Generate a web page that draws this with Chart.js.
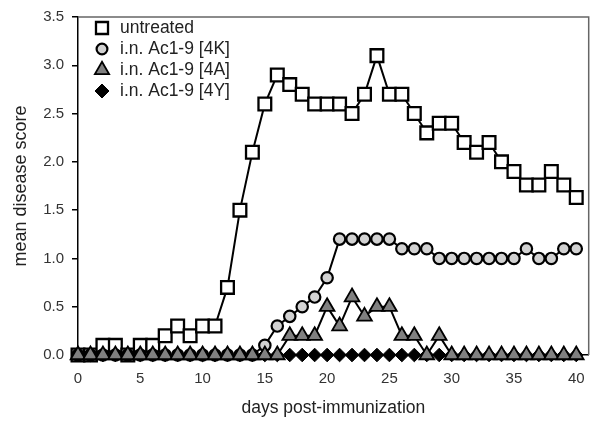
<!DOCTYPE html>
<html>
<head>
<meta charset="utf-8">
<script src="https://cdn.jsdelivr.net/npm/chart.js@4.4.0/dist/chart.umd.min.js"></script>
<style>
  html, body { margin: 0; padding: 0; background: #fff; }
  #wrap { width: 600px; height: 427px; }
</style>
</head>
<body>
<div id="wrap"><canvas id="grafico" width="600" height="427"></canvas></div>
<script>
// dias despues de la inmunizacion
const days = [0, 1, 2, 3, 4, 5, 6, 7, 8, 9, 10, 11, 12, 13, 14, 15, 16, 17, 18, 19, 20,
  21, 22, 23, 24, 25, 26, 27, 28, 29, 30, 31, 32, 33, 34, 35, 36, 37, 38, 39, 40];

const untreated = [0, 0, 0.1, 0.1, 0, 0.1, 0.1, 0.2, 0.3, 0.2, 0.3, 0.3, 0.7, 1.5, 2.1, 2.6, 2.9,
  2.8, 2.7, 2.6, 2.6, 2.6, 2.5, 2.7, 3.1, 2.7, 2.7, 2.5, 2.3, 2.4, 2.4, 2.2, 2.1, 2.2, 2.0,
  1.9, 1.76, 1.76, 1.9, 1.76, 1.63];
const ac4K = [0, 0, 0, 0, 0, 0, 0, 0, 0, 0, 0, 0, 0, 0, 0, 0.1, 0.3, 0.4, 0.5, 0.6, 0.8,
  1.2, 1.2, 1.2, 1.2, 1.2, 1.1, 1.1, 1.1, 1.0, 1.0, 1.0, 1.0, 1.0, 1.0, 1.0, 1.1, 1.0, 1.0, 1.1, 1.1];
const ac4A = [0, 0, 0, 0, 0, 0, 0, 0, 0, 0, 0, 0, 0, 0, 0, 0, 0, 0.2, 0.2, 0.2, 0.5,
  0.3, 0.6, 0.4, 0.5, 0.5, 0.2, 0.2, 0, 0.2, 0, 0, 0, 0, 0, 0, 0, 0, 0, 0, 0];
const ac4Y = [0, 0, 0, 0, 0, 0, 0, 0, 0, 0, 0, 0, 0, 0, 0, 0, 0, 0, 0, 0, 0,
  0, 0, 0, 0, 0, 0, 0, 0, 0, 0, 0, 0, 0, 0, 0, 0, 0, 0, 0, 0];

const seriesNames = ["untreated", "i.n. Ac1-9 [4K]", "i.n. Ac1-9 [4A]", "i.n. Ac1-9 [4Y]"];
const yTicks = [0, 0.5, 1.0, 1.5, 2.0, 2.5, 3.0, 3.5];
const xTicks = [0, 5, 10, 15, 20, 25, 30, 35, 40];

const fuente = "'Liberation Sans', Arial, sans-serif";

const puntos = (valores) => days.map((d, i) => ({ x: d, y: valores[i] }));

// leyenda dentro del area del grafico
const leyenda = {
  id: "leyenda",
  afterDatasetsDraw(chart) {
    const ctx = chart.ctx;
    const tam = [8.5, 5.4, 8.2, 7];
    ctx.save();
    chart.data.datasets.forEach((ds, i) => {
      const y = 28 + i * 21;
      ctx.fillStyle = ds.pointBackgroundColor;
      ctx.strokeStyle = "#000";
      ctx.lineWidth = ds.pointBorderWidth;
      Chart.helpers.drawPoint(ctx, { pointStyle: ds.pointStyle, radius: tam[i], borderWidth: ds.pointBorderWidth }, 102, y);
      ctx.fillStyle = "#222";
      ctx.font = "17.5px " + fuente;
      ctx.textBaseline = "middle";
      ctx.fillText(ds.label, 120, y);
    });
    ctx.restore();
  }
};

// marco superior y derecho
const marco = {
  id: "marco",
  beforeDatasetsDraw(chart) {
    const { left, right, top, bottom } = chart.chartArea;
    const ctx = chart.ctx;
    ctx.save();
    ctx.strokeStyle = "#666";
    ctx.lineWidth = 1.5;
    ctx.beginPath();
    ctx.moveTo(left, top);
    ctx.lineTo(right, top);
    ctx.lineTo(right, bottom);
    ctx.stroke();
    ctx.restore();
  }
};

new Chart(document.getElementById("grafico"), {
  type: "line",
  data: {
    datasets: [
      {
        label: seriesNames[0],
        data: puntos(untreated),
        borderColor: "#000",
        borderWidth: 2,
        pointStyle: "rect",
        pointRadius: 9,
        pointBackgroundColor: "#fff",
        pointBorderColor: "#000",
        pointBorderWidth: 2.3,
        order: 3,
        clip: false,
      },
      {
        label: seriesNames[1],
        data: puntos(ac4K),
        borderColor: "#000",
        borderWidth: 2,
        pointStyle: "circle",
        pointRadius: 5.7,
        pointBackgroundColor: "#d2d2d2",
        pointBorderColor: "#000",
        pointBorderWidth: 2.2,
        order: 2,
        clip: false,
      },
      {
        label: seriesNames[2],
        data: puntos(ac4A),
        borderColor: "#000",
        borderWidth: 2,
        pointStyle: "triangle",
        pointRadius: 8.5,
        pointBackgroundColor: "#808080",
        pointBorderColor: "#000",
        pointBorderWidth: 1.8,
        order: 0,
        clip: false,
      },
      {
        label: seriesNames[3],
        data: puntos(ac4Y),
        borderColor: "#000",
        borderWidth: 2,
        pointStyle: "rectRot",
        pointRadius: 6.8,
        pointBackgroundColor: "#000",
        pointBorderColor: "#000",
        pointBorderWidth: 1,
        order: 1,
        clip: false,
      },
    ],
  },
  options: {
    responsive: false,
    animation: false,
    devicePixelRatio: 1,
    layout: { padding: { top: 12, right: 5, left: 0, bottom: 0 } },
    elements: { line: { tension: 0 } },
    plugins: {
      legend: { display: false },
      tooltip: { enabled: false },
    },
    scales: {
      x: {
        type: "linear",
        min: 0,
        max: 41,
        afterFit: (s) => { s.height = 72; },
        afterBuildTicks: (s) => { s.ticks = xTicks.map((v) => ({ value: v })); },
        ticks: { padding: 15, color: "#333", font: { family: fuente, size: 15 } },
        grid: { display: false, drawTicks: false },
        border: { color: "#000", width: 1.5 },
        title: {
          display: true,
          text: "days post-immunization",
          color: "#222",
          font: { family: fuente, size: 17.5 },
          padding: { top: 0, bottom: 8 },
        },
      },
      y: {
        min: 0,
        max: 3.5,
        afterFit: (s) => { s.width = 78; },
        afterBuildTicks: (s) => { s.ticks = yTicks.map((v) => ({ value: v })); },
        ticks: {
          padding: 8,
          color: "#333",
          font: { family: fuente, size: 15 },
          callback: (v) => v.toFixed(1),
        },
        grid: { drawOnChartArea: false, drawTicks: true, tickLength: 6, color: "#000", lineWidth: 1.5 },
        border: { color: "#000", width: 1.5 },
        title: {
          display: true,
          text: "mean disease score",
          color: "#222",
          font: { family: fuente, size: 18 },
          padding: { top: 10, bottom: 0 },
        },
      },
    },
  },
  plugins: [marco, leyenda],
});
</script>
</body>
</html>
